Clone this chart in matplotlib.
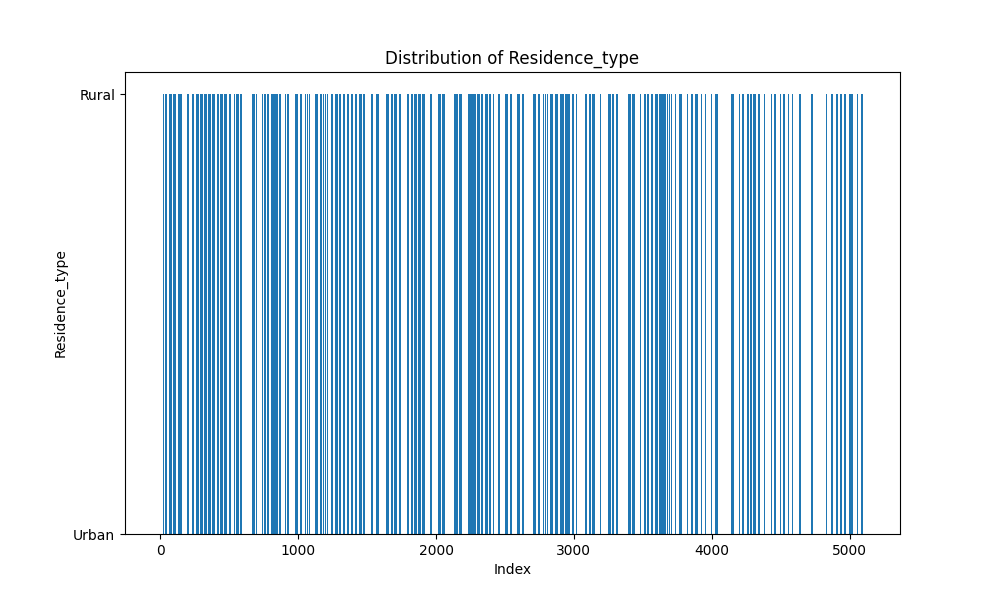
import matplotlib
matplotlib.use("Agg")
import matplotlib.pyplot as plt
import numpy as np

n_rows = 5110
# Rural spans, as screen-column ranges (reference px), converted to row index
rural_px_spans = [
(163,166),(168,171),(173,175),(178,181),(187,188),(191,193),(195,198),(200,202),(204,206),(208,210),
(212,215),(217,219),(220,222),(224,227),(229,230),(234,237),(238,241),(252,254),(255,256),(262,265),
(267,268),(271,274),(275,277),(279,280),(285,288),(295,298),(300,302),(305,307),(309,310),(315,317),
(320,323),(325,327),(330,332),
(335,337),(338,340),(342,344),(347,348),(351,352),(354,356),(359,361),(363,364),(371,372),(376,378),
(386,389),(391,392),(394,397),(399,401),(407,409),(411,412),(414,418),(418,420),(421,422),(423,425),
(429,431),(438,440),(442,444),(454,457),(459,461),(468,472),(473,475),(477,479),(480,482),(484,487),
(489,490),(492,493),(498,500),(505,507),(510,512),
(517,519),(522,523),(533,535),(538,540),(543,545),(547,548),(550,552),(555,557),(560,563),(565,569),
(571,573),(575,576),(585,587),(589,592),(593,595),(598,600),(608,610),(611,613),(614,617),(622,623),
(628,631),(632,634),(638,640),(642,645),(647,648),(651,652),(655,657),(658,659),(660,662),(663,667),
(668,671),(674,675),(678,682),(685,687),(690,692),
(695,697),(700,701),(704,706),(709,711),(714,718),(729,734),(737,739),(741,743),(746,748),(749,751),
(752,755),(757,759),(763,765),(770,771),(773,775),(779,781),(782,785),(787,788),(791,793),(798,800),
(810,813),(816,817),(820,821),(825,826),(830,832),(835,837),(839,841),(843,845),(848,852),(855,857),
(860,862),
]
px0, px_per_row = 160.0, 689.0 / 5000.0

rural = np.zeros(n_rows, dtype=bool)
for a, b in rural_px_spans:
    s = int(round((a - px0) / px_per_row))
    e = int(round((b + 0.6 - px0) / px_per_row))
    rural[max(s, 0):min(e, n_rows)] = True

idx = np.arange(n_rows)
fig, ax = plt.subplots(figsize=(10, 6), dpi=100)
ax.bar(idx[rural], np.ones(rural.sum()), width=0.8, color="#1f77b4")
ax.bar(idx[~rural], np.zeros((~rural).sum()), width=0.8, color="#1f77b4")
ax.set_yticks([0, 1])
ax.set_yticklabels(["Urban", "Rural"])
ax.set_ylim(0, 1.05)
ax.set_title("Distribution of Residence_type")
ax.set_xlabel("Index")
ax.set_ylabel("Residence_type")
fig.savefig("out.png")
